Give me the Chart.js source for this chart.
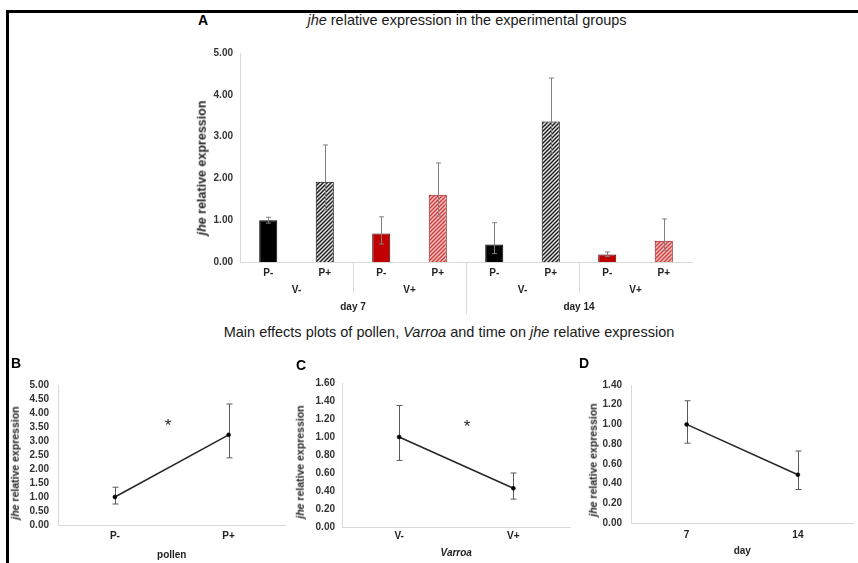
<!DOCTYPE html>
<html>
<head>
<meta charset="utf-8">
<script src="https://cdn.jsdelivr.net/npm/chart.js@4/dist/chart.umd.min.js"></script>
<style>
    html, body { margin: 0; padding: 0; background: #fff; }
    body { width: 858px; height: 563px; position: relative; overflow: hidden; font-family: "Liberation Sans", Arial, sans-serif; }
    canvas { position: absolute; }
    .frame { position: absolute; left: 6px; top: 10px; width: 860px; height: 560px; border-top: 3px solid #000; border-left: 3px solid #000; }
    .lbl { position: absolute; transform: translate(-50%, -50%); white-space: nowrap; line-height: 1; color: #000; }
    .letter { font-weight: bold; font-size: 14px; }
    .title { font-size: 14.5px; color: #1a1a1a; }
    .ytitle { position: absolute; transform: translate(-50%, -50%) rotate(-90deg); white-space: nowrap; line-height: 1; font-weight: bold; color: #262626; }
    .star { font-size: 17px; color: #262626; }
</style>
</head>
<body>
<div class="frame"></div>

<canvas id="chartA" width="510" height="280" style="left:190px; top:40px;"></canvas>
<canvas id="chartB" width="270" height="193" style="left:20px; top:370px;"></canvas>
<canvas id="chartC" width="270" height="193" style="left:305px; top:370px;"></canvas>
<canvas id="chartD" width="263" height="193" style="left:595px; top:370px;"></canvas>

<div class="lbl letter" style="left:203px; top:20px;">A</div>
<div class="lbl title" style="left:467px; top:20px;"><i>jhe</i> relative expression in the experimental groups</div>
<div class="ytitle" style="left:202px; top:168px; font-size:12.5px;"><i>jhe</i> relative expression</div>

<div class="lbl title" style="left:449px; top:332px;">Main effects plots of pollen, <i>Varroa</i> and time on <i>jhe</i> relative expression</div>

<div class="lbl letter" style="left:16px; top:363px;">B</div>
<div class="lbl letter" style="left:301px; top:365px;">C</div>
<div class="lbl letter" style="left:584px; top:363px;">D</div>
<div class="ytitle" style="left:15px; top:463px; font-size:10.5px;"><i>jhe</i> relative expression</div>
<div class="ytitle" style="left:300px; top:462px; font-size:10.5px;"><i>jhe</i> relative expression</div>
<div class="ytitle" style="left:593px; top:460px; font-size:10.5px;"><i>jhe</i> relative expression</div>
<div class="lbl star" style="left:168px; top:425px;">*</div>
<div class="lbl star" style="left:467px; top:426px;">*</div>

<script>
/* ============================ Data ============================ */
// A: eight groups, pollen inside Varroa inside day
const groupLabels = ["P-", "P+", "P-", "P+", "P-", "P+", "P-", "P+"];
const varroaGroups = ["V-", "V+", "V-", "V+"];
const dayGroups = ["day 7", "day 14"];
const expression = [1.00, 1.92, 0.68, 1.61, 0.42, 3.36, 0.18, 0.51];
const expressionHigh = [1.07, 2.80, 1.08, 2.37, 0.94, 4.40, 0.24, 1.03];
const expressionLow = [0.93, 1.25, 0.43, 1.10, 0.20, 2.60, 0.13, 0.27];

// B-D: main effects
const pollenLabels = ["P-", "P+"];
const pollenMean = [1.00, 3.22];
const pollenHigh = [1.35, 4.32];
const pollenLow = [0.75, 2.40];

const varroaLabels = ["V-", "V+"];
const varroaMean = [1.00, 0.43];
const varroaHigh = [1.35, 0.60];
const varroaLow = [0.74, 0.31];

const dayLabels = ["7", "14"];
const dayMean = [1.00, 0.49];
const dayHigh = [1.24, 0.73];
const dayLow = [0.81, 0.34];

/* ============================ Common ============================ */
Chart.defaults.font.family = '"Liberation Sans", Arial, sans-serif';
Chart.defaults.color = "#333";

const axisGrey = "#d9d9d9";
const tickFont = { size: 10, weight: "bold" };

// vertical whiskers from the high/low arrays
const errorBars = {
    id: "errorBars",
    draw(chart, opts) {
        const { ctx } = chart;
        const y = chart.scales.y;
        const meta = chart.getDatasetMeta(0);
        ctx.save();
        ctx.strokeStyle = opts.color;
        ctx.lineWidth = 1;
        meta.data.forEach(function (el, i) {
            const px = Math.round(el.x) + 0.5;
            const hi = y.getPixelForValue(opts.high[i]);
            const lo = y.getPixelForValue(opts.low[i]);
            ctx.beginPath();
            ctx.moveTo(px, hi);
            ctx.lineTo(px, lo);
            ctx.moveTo(px - opts.cap, hi);
            ctx.lineTo(px + opts.cap, hi);
            ctx.moveTo(px - opts.cap, lo);
            ctx.lineTo(px + opts.cap, lo);
            ctx.stroke();
        });
        ctx.restore();
    },
    beforeDatasetsDraw(chart, args, opts) {
        if (!opts.above) this.draw(chart, opts);
    },
    afterDatasetsDraw(chart, args, opts) {
        if (opts.above) this.draw(chart, opts);
    },
};

function hatch(ctx, bg, fg) {
    const c = document.createElement("canvas");
    c.width = 4;
    c.height = 4;
    const g = c.getContext("2d");
    g.fillStyle = bg;
    g.fillRect(0, 0, 4, 4);
    g.strokeStyle = fg;
    g.lineWidth = 1.4;
    g.beginPath();
    g.moveTo(0, 4); g.lineTo(4, 0);
    g.moveTo(-1, 1); g.lineTo(1, -1);
    g.moveTo(3, 5); g.lineTo(5, 3);
    g.stroke();
    return ctx.createPattern(c, "repeat");
}

/* ============================ A: bar chart ============================ */
const ctxA = document.getElementById("chartA").getContext("2d");
const greyHatch = hatch(ctxA, "#e8e8e8", "#1a1a1a");
const pinkHatch = hatch(ctxA, "#f7c4c4", "#d23a3a");
const barFills = ["#000000", greyHatch, "#c00000", pinkHatch, "#000000", greyHatch, "#c00000", pinkHatch];
const barEdges = ["#000000", "#000000", "#3a0000", "#8a1010", "#000000", "#000000", "#3a0000", "#8a1010"];

// separators between the Varroa groups and between the days
const groupLines = {
    id: "groupLines",
    afterDraw(chart) {
        const { ctx, chartArea } = chart;
        const x2 = chart.scales.x2;
        const x3 = chart.scales.x3;
        ctx.save();
        ctx.strokeStyle = axisGrey;
        ctx.lineWidth = 1;
        for (let i = 1; i < varroaGroups.length; i++) {
            const px = Math.round((x2.getPixelForTick(i - 1) + x2.getPixelForTick(i)) / 2) + 0.5;
            const end = i % 2 === 0 ? x3.bottom - 6 : x2.bottom - 3;
            ctx.beginPath();
            ctx.moveTo(px, chartArea.bottom);
            ctx.lineTo(px, end);
            ctx.stroke();
        }
        ctx.restore();
    },
};

const groupAxis = function (labels, weight, height) {
    return {
        type: "category",
        position: "bottom",
        labels: labels,
        offset: true,
        weight: weight,
        grid: { display: false, drawTicks: false },
        border: { display: false },
        ticks: { padding: 5, color: "#222", font: tickFont, autoSkip: false, maxRotation: 0 },
        afterFit: function (s) { s.height = height; },
    };
};

const chartA = new Chart(ctxA, {
    type: "bar",
    data: {
        labels: groupLabels,
        datasets: [
            {
                data: expression,
                backgroundColor: barFills,
                borderColor: barEdges,
                borderWidth: 1,
                barPercentage: 0.32,
                categoryPercentage: 1,
            },
        ],
    },
    options: {
        responsive: false,
        animation: false,
        layout: { padding: { top: 7, right: 8, left: 0, bottom: 0 } },
        plugins: {
            legend: { display: false },
            tooltip: { enabled: false },
            errorBars: { high: expressionHigh, low: expressionLow, color: "#808080", cap: 2.5, above: true },
        },
        scales: {
            x: {
                grid: { display: false, drawTicks: false },
                border: { color: axisGrey },
                ticks: { padding: 5, color: "#222", font: tickFont, autoSkip: false, maxRotation: 0 },
                afterFit: function (s) { s.height = 17; },
            },
            x2: groupAxis(varroaGroups, 1, 17),
            x3: groupAxis(dayGroups, 2, 24),
            y: {
                min: 0,
                max: 5,
                grid: { display: false, drawTicks: false },
                border: { color: axisGrey },
                ticks: {
                    stepSize: 1,
                    padding: 7,
                    color: "#333",
                    font: tickFont,
                    autoSkip: false,
                    callback: function (v) { return v.toFixed(2); },
                },
                afterFit: function (s) { s.width = 50; },
            },
        },
    },
    plugins: [errorBars, groupLines],
});

/* ============================ B-D: main effects ============================ */
function effectChart(id, labels, mean, high, low, yMax, step, xTitle, italic, box) {
    return new Chart(document.getElementById(id), {
        type: "line",
        data: {
            labels: labels,
            datasets: [
                {
                    data: mean,
                    borderColor: "#262626",
                    borderWidth: 1.5,
                    pointRadius: 2,
                    pointBorderWidth: 0.5,
                    pointBackgroundColor: "#000",
                    pointBorderColor: "#000",
                    tension: 0,
                },
            ],
        },
        options: {
            responsive: false,
            animation: false,
            layout: { padding: { top: box.top, right: box.right, left: 0, bottom: 0 } },
            plugins: {
                legend: { display: false },
                tooltip: { enabled: false },
                errorBars: { high: high, low: low, color: "#595959", cap: 3, above: false },
            },
            scales: {
                x: {
                    offset: true,
                    grid: { display: false, drawTicks: false },
                    border: { color: axisGrey },
                    ticks: { padding: box.tickPad, color: "#222", font: tickFont },
                    title: {
                        display: true,
                        text: xTitle,
                        color: "#222",
                        font: { size: 10, weight: "bold", style: italic ? "italic" : "normal" },
                        padding: { top: 0, bottom: box.titlePad },
                    },
                    afterFit: function (s) { s.height = box.xHeight; },
                },
                y: {
                    min: 0,
                    max: yMax,
                    grid: { display: false, drawTicks: false },
                    border: { color: axisGrey },
                    ticks: {
                        stepSize: step,
                        autoSkip: false,
                        padding: box.yPad,
                        color: "#333",
                        font: tickFont,
                        callback: function (v) { return v.toFixed(2); },
                    },
                    afterFit: function (s) { s.width = box.yWidth; },
                },
            },
        },
        plugins: [errorBars],
    });
}

const chartB = effectChart("chartB", pollenLabels, pollenMean, pollenHigh, pollenLow, 5, 0.5, "pollen", false,
    { yWidth: 38, yPad: 9, top: 13, right: 2, xHeight: 38, tickPad: 5, titlePad: 2 });
const chartC = effectChart("chartC", varroaLabels, varroaMean, varroaHigh, varroaLow, 1.6, 0.2, "Varroa", true,
    { yWidth: 37, yPad: 7, top: 13, right: 2, xHeight: 36, tickPad: 3, titlePad: 4 });
const chartD = effectChart("chartD", dayLabels, dayMean, dayHigh, dayLow, 1.4, 0.2, "day", false,
    { yWidth: 36, yPad: 9, top: 12, right: 0, xHeight: 40, tickPad: 6, titlePad: 6 });
</script>
</body>
</html>
